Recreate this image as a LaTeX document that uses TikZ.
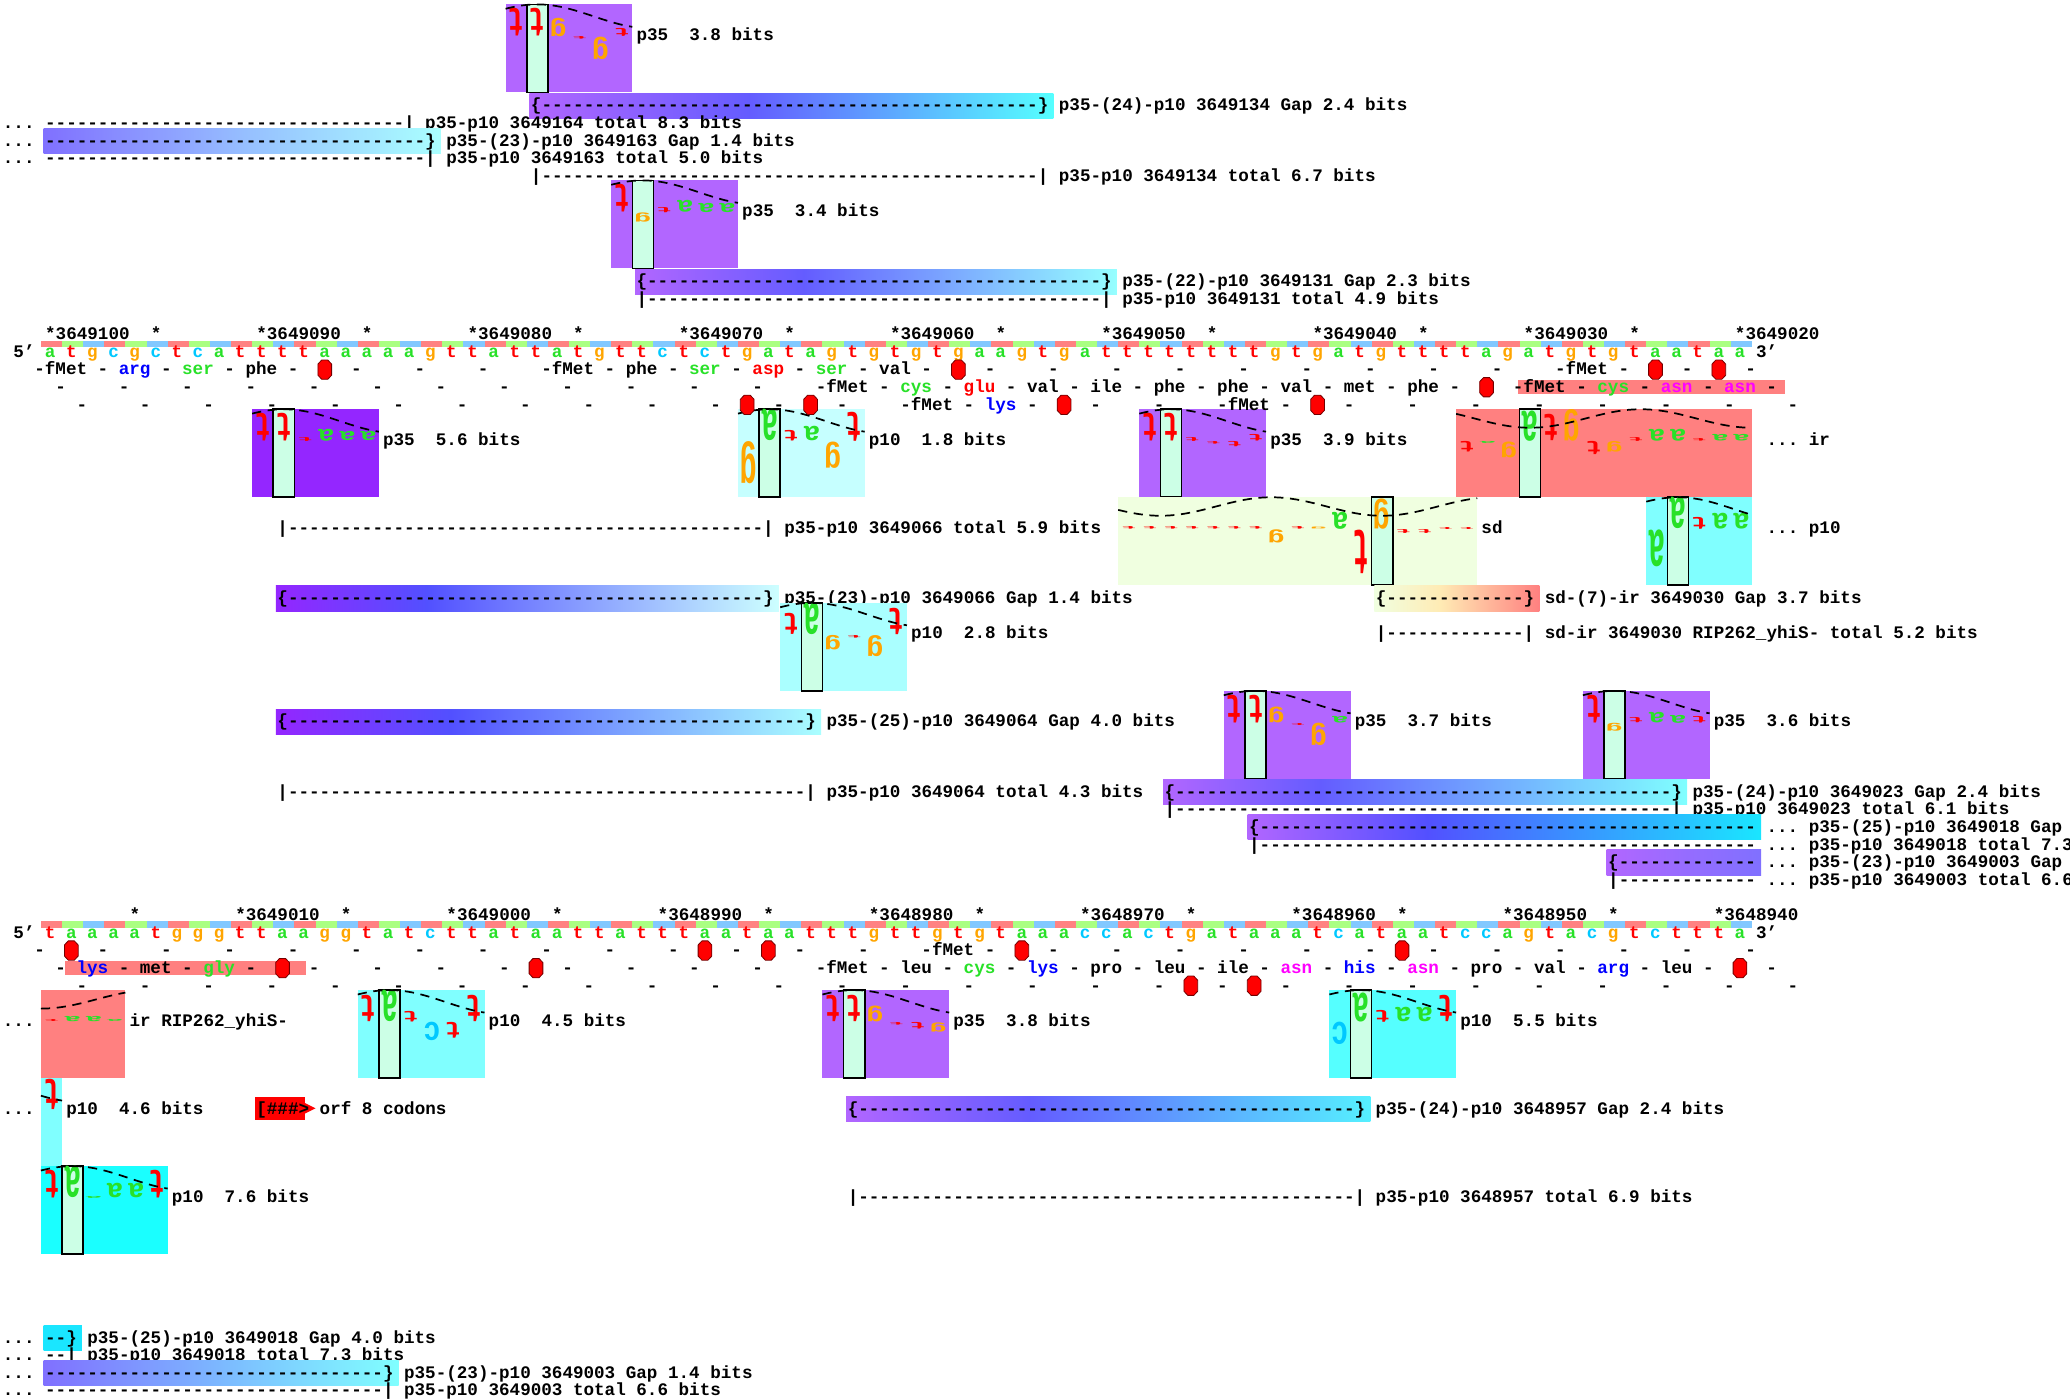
\documentclass[tikz,border=0pt]{standalone}
\usepackage{fontspec}
\usepackage{graphicx}
\newfontfamily\mf{Liberation Mono}
\definecolor{basea}{RGB}{40,225,40}
\definecolor{basec}{RGB}{0,200,255}
\definecolor{baseg}{RGB}{255,165,0}
\definecolor{baset}{RGB}{255,0,0}
\definecolor{fb0}{RGB}{255,130,130}
\definecolor{fb1}{RGB}{170,255,130}
\definecolor{fb2}{RGB}{130,200,255}
\definecolor{aab}{RGB}{0,0,255}
\definecolor{aag}{RGB}{40,225,40}
\definecolor{aar}{RGB}{255,0,0}
\definecolor{aam}{RGB}{255,0,255}
\definecolor{pur}{RGB}{178,102,255}
\definecolor{dpur}{RGB}{148,38,255}
\definecolor{cy1}{RGB}{198,255,255}
\definecolor{cy2}{RGB}{170,255,255}
\definecolor{cy3}{RGB}{128,255,255}
\definecolor{cy4}{RGB}{85,255,255}
\definecolor{cy5}{RGB}{26,255,255}
\definecolor{sal}{RGB}{255,128,128}
\definecolor{sdc}{RGB}{240,255,224}
\definecolor{selc}{RGB}{204,255,230}
\definecolor{gblue}{RGB}{100,92,255}
\definecolor{gblue2}{RGB}{82,80,255}
\definecolor{bl1}{RGB}{128,112,255}
\definecolor{bl1m}{RGB}{150,190,255}
\definecolor{cyb}{RGB}{150,255,255}
\definecolor{cyc}{RGB}{205,255,255}
\definecolor{cyh}{RGB}{26,230,255}
\definecolor{cyj}{RGB}{85,240,255}
\definecolor{sdm}{RGB}{255,235,180}
\definecolor{imid}{RGB}{150,108,255}
\definecolor{lmid}{RGB}{124,185,255}
\newcount\hyc
\newcount\nodec
\newcommand\hy[1]{\hyc=0 \loop-\kern0pt\advance\hyc by 1 \ifnum\hyc<#1 \repeat}
\tikzset{
  nm/.code={\global\advance\nodec by 1\relax\edef\tmpn{n\the\nodec}\pgfkeysalso{/tikz/name/.expand once=\tmpn}},
  txt/.style={nm, inner sep=0pt, font=\mf\bfseries\fontsize{13.33}{16}\selectfont\frenchspacing},
  crv/.style={black, line width=1.3pt, dash pattern=on 7pt off 5pt},
  selcol/.style={fill=selc, draw=black, line width=1.2pt},
  stopsty/.style={fill=red, draw=black!55!red, line width=0.6pt},
}
\newcommand\Ry[1]{(253.33+13.333*(#1))}
\newcommand\T[3]{\node[txt, anchor=base west] at ({2+8*(#1)},{#2+4}) {#3};}
\newcommand\Am[4]{\node[txt, anchor=base, text=#4] at ({38+16*(#1)},{#2+4}) {#3};}
\newcommand\Fm[2]{\node[txt, anchor=base] at ({34+16*(#1)},{#2+4}) {fMet};}
\newcommand\Dr[2]{\foreach\k in {0,...,27}{\node[txt, anchor=base] at ({30+16*(#2+3*\k)},{#1+4}) {-};}}
\newcommand\Stp[2]{\filldraw[stopsty] ({38+16*(#1)-2.3},{#2-7.3}) -- ++(4.6,0) -- ++(2.9,3.1) -- ++(0,8.4) -- ++(-2.9,3.1) -- ++(-4.6,0) -- ++(-2.9,-3.1) -- ++(0,-8.4) -- cycle;}
\newcommand\Sq[2]{\foreach \b [count=\i from 0] in {#2}{\node[txt, anchor=base] at ({38+16*\i},{#1+4}) {\textcolor{base\b}{\b}};}}
\newcommand\Cb[1]{\foreach \i in {0,...,80}{\pgfmathtruncatemacro\mm{mod(\i,3)}\fill[fb\mm] ({31+16*\i},#1) rectangle ++(16,5);}}
\newcommand\W[5]{\fill[#5] (#1,#2) rectangle ++({16*#3},66.67);
  \ifnum#4>-1 \filldraw[selcol] ({#1+16*#4},#2) rectangle ++(16,66.67);\fi}
\newcommand\Lt[4]{\ifdim #3pt>0pt \def\lanc{south}\else\def\lanc{north}\fi
  \pgfmathsetmacro\lh{max(abs(#3),1.3)}%
  \node[nm, inner sep=0pt, anchor=\lanc] at (#1,#2) {\resizebox*{13pt}{\lh pt}{\rotatebox{180}{\mf\bfseries\textcolor{base#4}{#4}}}};}
\newcommand\Cp[4]{\draw[crv] plot[domain=#1:#2, samples=60, variable=\x] (\x,{#3+9*(1-cos((\x-(#4))*2.11765))});}
\newcommand\Cs[4]{\draw[crv] plot[domain=#1:#2, samples=90, variable=\x] (\x,{#3+7*(1+cos((\x-(#4))*2.142857))});}
\newcommand\GB[7]{\pgfmathsetmacro\xm{#1+#7*(#2-#1)}%
  \shade[left color=#4,right color=#5] (#1,{#3-9.5}) rectangle ({\xm+0.6},{#3+9.5});
  \shade[left color=#5,right color=#6] (\xm,{#3-9.5}) rectangle (#2,{#3+9.5});}
\begin{document}
\begin{tikzpicture}[x=1pt,y=-1pt]
\useasboundingbox (0,0) rectangle (1568,1060);
\fill[white] (0,0) rectangle (1568,1060);
\clip (0,0) rectangle (1568,1060);
% ===== top section =====
\W{383}{3.33}{6}{1}{pur}
\def\zz{27.7}
\Lt{391}{\zz}{21}{t}\Lt{407}{\zz}{21}{t}\Lt{423}{\zz}{14}{g}\Lt{439}{\zz}{-2}{t}\Lt{455}{\zz}{-17}{g}\Lt{471}{\zz}{6}{t}
\Cp{383}{479}{3.33}{407}
\T{60}{\Ry{-17}}{p35~~3.8~bits}
\GB{401}{798}{\Ry{-13}}{pur}{gblue}{cy4}{0.42}
\T{50}{\Ry{-13}}{\{\hy{47}\}~p35-(24)-p10 3649134 Gap 2.4 bits}
\T{0}{\Ry{-12}}{...~\hy{34}|~p35-p10 3649164 total 8.3 bits}
\GB{33}{334}{\Ry{-11}}{bl1}{bl1m}{cy2}{0.5}
\T{0}{\Ry{-11}}{...~\hy{36}\}~p35-(23)-p10 3649163 Gap 1.4 bits}
\T{0}{\Ry{-10}}{...~\hy{36}|~p35-p10 3649163 total 5.0 bits}
\T{50}{\Ry{-9}}{|\hy{47}|~p35-p10 3649134 total 6.7 bits}
\W{463}{136.67}{6}{1}{pur}
\def\zz{161}
\Lt{471}{\zz}{21}{t}\Lt{487}{\zz}{-7}{g}\Lt{503}{\zz}{4}{t}\Lt{519}{\zz}{9}{a}\Lt{535}{\zz}{7}{a}\Lt{551}{\zz}{7}{a}
\Cp{463}{559}{136.67}{487}
\T{70}{\Ry{-7}}{p35~~3.4~bits}
\GB{481}{846}{\Ry{-3}}{pur}{gblue}{cyb}{0.35}
\T{60}{\Ry{-3}}{\{\hy{43}\}~p35-(22)-p10 3649131 Gap 2.3 bits}
\T{60}{\Ry{-2}}{|\hy{43}|~p35-p10 3649131 total 4.9 bits}
% ===== walkers below line 1 =====
\W{191}{310}{6}{1}{dpur}
\W{559}{310}{6}{1}{cy1}
\W{863}{310}{6}{1}{pur}
\W{1103}{310}{14}{3}{sal}
\def\zz{334.3}
\Lt{199}{\zz}{21}{t}\Lt{215}{\zz}{21}{t}\Lt{231}{\zz}{3}{t}\Lt{247}{\zz}{9}{a}\Lt{263}{\zz}{7}{a}\Lt{279}{\zz}{7}{a}
\Lt{567}{\zz}{-32}{g}\Lt{583}{\zz}{24}{a}\Lt{599}{\zz}{8}{t}\Lt{615}{\zz}{11}{a}\Lt{631}{\zz}{-20}{g}\Lt{647}{\zz}{22}{t}
\Lt{871}{\zz}{21}{t}\Lt{887}{\zz}{21}{t}\Lt{903}{\zz}{3}{t}\Lt{919}{\zz}{-2}{t}\Lt{935}{\zz}{-4}{t}\Lt{951}{\zz}{5}{t}
\Lt{1111}{\zz}{-8}{t}\Lt{1127}{\zz}{-1.5}{a}\Lt{1143}{\zz}{-12}{g}\Lt{1159}{\zz}{23}{a}\Lt{1175}{\zz}{20}{t}\Lt{1191}{\zz}{24}{g}\Lt{1207}{\zz}{-10}{t}
\Lt{1223}{\zz}{-8}{g}\Lt{1239}{\zz}{3}{t}\Lt{1255}{\zz}{9}{a}\Lt{1271}{\zz}{9}{a}\Lt{1287}{\zz}{2}{t}\Lt{1303}{\zz}{5}{a}\Lt{1319}{\zz}{5}{a}
\Cp{191}{287}{310}{215}
\Cp{559}{655}{310}{583}
\Cp{863}{959}{310}{887}
\Cs{1103}{1327}{310}{1159}
\T{36}{\Ry{6}}{p35~~5.6~bits}
\T{82}{\Ry{6}}{p10~~1.8~bits}
\T{120}{\Ry{6}}{p35~~3.9~bits}
\T{167}{\Ry{6}}{...~ir}
\W{847}{376.67}{17}{12}{sdc}
\W{1247}{376.67}{5}{1}{cy3}
\def\zz{401}
\Lt{855}{\zz}{2}{t}\Lt{871}{\zz}{2}{t}\Lt{887}{\zz}{2}{t}\Lt{903}{\zz}{2}{t}\Lt{919}{\zz}{2}{t}\Lt{935}{\zz}{2}{t}\Lt{951}{\zz}{2}{t}
\Lt{967}{\zz}{-10}{g}\Lt{983}{\zz}{2}{t}\Lt{999}{\zz}{1.5}{g}\Lt{1015}{\zz}{13}{a}\Lt{1031}{\zz}{-33}{t}\Lt{1047}{\zz}{23}{g}
\Lt{1063}{\zz}{-3}{t}\Lt{1079}{\zz}{-3}{t}\Lt{1095}{\zz}{1.5}{t}\Lt{1111}{\zz}{1.5}{t}
\Lt{1255}{\zz}{-28}{a}\Lt{1271}{\zz}{24}{a}\Lt{1287}{\zz}{9}{t}\Lt{1303}{\zz}{12}{a}\Lt{1319}{\zz}{12}{a}
\Cs{847}{1119}{376.67}{1047}
\Cp{1247}{1327}{376.67}{1271}
\T{26}{\Ry{11}}{|\hy{45}|~p35-p10 3649066 total 5.9 bits}
\T{140}{\Ry{11}}{sd}
\T{167}{\Ry{11}}{...~p10}
\GB{209}{590}{\Ry{15}}{dpur}{gblue2}{cyc}{0.3}
\T{26}{\Ry{15}}{\{\hy{45}\}~p35-(23)-p10 3649066 Gap 1.4 bits}
\GB{1041}{1166}{\Ry{15}}{sdc}{sdm}{sal}{0.4}
\T{130}{\Ry{15}}{\{\hy{13}\}~sd-(7)-ir 3649030 Gap 3.7 bits}
\W{591}{456.67}{6}{1}{cy2}
\def\zz{481}
\Lt{599}{\zz}{16}{t}\Lt{615}{\zz}{24}{a}\Lt{631}{\zz}{-11}{g}\Lt{647}{\zz}{-2}{t}\Lt{663}{\zz}{-16}{g}\Lt{679}{\zz}{20}{t}
\Cp{591}{687}{456.67}{615}
\T{86}{\Ry{17}}{p10~~2.8~bits}
\T{130}{\Ry{17}}{|\hy{13}|~sd-ir 3649030 RIP262\_yhiS- total 5.2 bits}
\GB{209}{622}{\Ry{22}}{dpur}{gblue2}{cy2}{0.32}
\T{26}{\Ry{22}}{\{\hy{49}\}~p35-(25)-p10 3649064 Gap 4.0 bits}
\W{927}{523.33}{6}{1}{pur}
\W{1199}{523.33}{6}{1}{pur}
\def\zz{547.7}
\Lt{935}{\zz}{21}{t}\Lt{951}{\zz}{21}{t}\Lt{967}{\zz}{12}{g}\Lt{983}{\zz}{-1.5}{t}\Lt{999}{\zz}{-17}{g}\Lt{1015}{\zz}{5}{a}
\Lt{1207}{\zz}{21}{t}\Lt{1223}{\zz}{-6}{g}\Lt{1239}{\zz}{4}{t}\Lt{1255}{\zz}{8}{a}\Lt{1271}{\zz}{6}{a}\Lt{1287}{\zz}{5}{t}
\Cp{927}{1023}{523.33}{951}
\Cp{1199}{1295}{523.33}{1223}
\T{128}{\Ry{22}}{p35~~3.7~bits}
\T{162}{\Ry{22}}{p35~~3.6~bits}
\T{26}{\Ry{26}}{|\hy{49}|~p35-p10 3649064 total 4.3 bits}
\GB{881}{1278}{\Ry{26}}{pur}{gblue}{cy3}{0.3}
\T{110}{\Ry{26}}{\{\hy{47}\}~p35-(24)-p10 3649023 Gap 2.4 bits}
\T{110}{\Ry{27}}{|\hy{47}|~p35-p10 3649023 total 6.1 bits}
\GB{945}{1334}{\Ry{28}}{pur}{gblue2}{cyh}{0.35}
\T{118}{\Ry{28}}{\{\hy{47}~...~p35-(25)-p10 3649018 Gap 4.0 bits}
\T{118}{\Ry{29}}{|\hy{47}~...~p35-p10 3649018 total 7.3 bits}
\GB{1217}{1334}{\Ry{30}}{pur}{imid}{bl1}{0.5}
\T{152}{\Ry{30}}{\{\hy{13}~...~p35-(23)-p10 3649003 Gap 1.4 bits}
\T{152}{\Ry{31}}{|\hy{13}~...~p35-p10 3649003 total 6.6 bits}
% ===== sequence line 1 =====
\foreach \i in {0,10,...,80}{\node[txt, anchor=base west] at ({34+16*\i},257.33) {*\the\numexpr3649100-\i\relax};}
\foreach \i in {5,15,...,75}{\node[txt, anchor=base west] at ({34+16*\i},257.33) {*};}
\Cb{258}
\T{1}{\Ry{1}}{5’}
\T{166}{\Ry{1}}{3’}
\Sq{266.67}{a,t,g,c,g,c,t,c,a,t,t,t,t,a,a,a,a,a,g,t,t,a,t,t,a,t,g,t,t,c,t,c,t,g,a,t,a,g,t,g,t,g,t,g,a,a,g,t,g,a,t,t,t,t,t,t,t,t,g,t,g,a,t,g,t,t,t,t,a,g,a,t,g,t,g,t,a,a,t,a,a}
\fill[sal] (1150,287.8) rectangle (1352,298.8);
\Dr{280}{0}\Dr{293.33}{1}\Dr{306.67}{2}
\Fm{1}{280}\Am{4}{280}{arg}{aab}\Am{7}{280}{ser}{aag}\Am{10}{280}{phe}{black}
\Fm{25}{280}\Am{28}{280}{phe}{black}\Am{31}{280}{ser}{aag}\Am{34}{280}{asp}{aar}\Am{37}{280}{ser}{aag}\Am{40}{280}{val}{black}\Fm{73}{280}
\Fm{38}{293.33}\Am{41}{293.33}{cys}{aag}\Am{44}{293.33}{glu}{aar}\Am{47}{293.33}{val}{black}\Am{50}{293.33}{ile}{black}
\Am{53}{293.33}{phe}{black}\Am{56}{293.33}{phe}{black}\Am{59}{293.33}{val}{black}\Am{62}{293.33}{met}{black}\Am{65}{293.33}{phe}{black}
\Fm{71}{293.33}\Am{74}{293.33}{cys}{aag}\Am{77}{293.33}{asn}{aam}\Am{80}{293.33}{asn}{aam}
\Fm{42}{306.67}\Am{45}{306.67}{lys}{aab}\Fm{57}{306.67}
\Stp{13}{280}\Stp{43}{280}\Stp{76}{280}\Stp{79}{280}\Stp{68}{293.33}
\Stp{33}{306.67}\Stp{36}{306.67}\Stp{48}{306.67}\Stp{60}{306.67}
% ===== walkers below line 2 =====
\W{31}{750}{4}{-1}{sal}
\W{271}{750}{6}{1}{cy3}
\W{623}{750}{6}{1}{pur}
\W{1007}{750}{6}{1}{cy4}
\def\zz{774.3}
\Lt{39}{\zz}{1.5}{t}\Lt{55}{\zz}{4}{a}\Lt{71}{\zz}{4}{a}\Lt{87}{\zz}{1.5}{a}
\Lt{279}{\zz}{20}{t}\Lt{295}{\zz}{24}{a}\Lt{311}{\zz}{8}{t}\Lt{327}{\zz}{-14}{c}\Lt{343}{\zz}{-12}{t}\Lt{359}{\zz}{20}{t}
\Lt{631}{\zz}{20}{t}\Lt{647}{\zz}{20}{t}\Lt{663}{\zz}{12}{g}\Lt{679}{\zz}{-2}{t}\Lt{695}{\zz}{-5}{t}\Lt{711}{\zz}{-7}{g}
\Lt{1015}{\zz}{-17}{c}\Lt{1031}{\zz}{22}{a}\Lt{1047}{\zz}{9}{t}\Lt{1063}{\zz}{11}{a}\Lt{1079}{\zz}{11}{a}\Lt{1095}{\zz}{20}{t}
\Cs{31}{95}{750}{-137}
\Cp{271}{367}{750}{295}
\Cp{623}{719}{750}{647}
\Cp{1007}{1103}{750}{1031}
\T{0}{\Ry{39}}{...}
\T{12}{\Ry{39}}{ir RIP262\_yhiS-}
\T{46}{\Ry{39}}{p10~~4.5~bits}
\T{90}{\Ry{39}}{p35~~3.8~bits}
\T{138}{\Ry{39}}{p10~~5.5~bits}
\W{31}{816.67}{1}{-1}{cy3}
\Lt{39}{841}{23}{t}
\Cp{31}{47}{816.67}{-25}
\T{0}{\Ry{44}}{...}
\T{6}{\Ry{44}}{p10~~4.6~bits}
\fill[red] (193,831) rectangle (231,848);
\fill[red] (230,835) -- (239,839.5) -- (230,844) -- cycle;
\T{24}{\Ry{44}}{[\#\#\#>}
\T{30}{\Ry{44}}{orf 8 codons}
\GB{641}{1038}{\Ry{44}}{pur}{gblue}{cyj}{0.35}
\T{80}{\Ry{44}}{\{\hy{47}\}~p35-(24)-p10 3648957 Gap 2.4 bits}
\W{31}{883.33}{6}{1}{cy5}
\def\zz{907.7}
\Lt{39}{\zz}{21}{t}\Lt{55}{\zz}{24}{a}\Lt{71}{\zz}{1.5}{a}\Lt{87}{\zz}{11}{a}\Lt{103}{\zz}{11}{a}\Lt{119}{\zz}{21}{t}
\Cp{31}{127}{883.33}{55}
\T{16}{\Ry{49}}{p10~~7.6~bits}
\T{80}{\Ry{49}}{|\hy{47}|~p35-p10 3648957 total 6.9 bits}
\GB{33}{62}{\Ry{57}}{cyh}{cyh}{cyh}{0.5}
\T{0}{\Ry{57}}{...~\hy{2}\}~p35-(25)-p10 3649018 Gap 4.0 bits}
\T{0}{\Ry{58}}{...~\hy{2}|~p35-p10 3649018 total 7.3 bits}
\GB{33}{302}{\Ry{59}}{bl1}{lmid}{cy3}{0.5}
\T{0}{\Ry{59}}{...~\hy{32}\}~p35-(23)-p10 3649003 Gap 1.4 bits}
\T{0}{\Ry{60}}{...~\hy{32}|~p35-p10 3649003 total 6.6 bits}
% ===== sequence line 2 =====
\foreach \i in {9,19,...,79}{\node[txt, anchor=base west] at ({34+16*\i},697.33) {*\the\numexpr3649019-\i\relax};}
\foreach \i in {4,14,...,74}{\node[txt, anchor=base west] at ({34+16*\i},697.33) {*};}
\Cb{698}
\T{1}{\Ry{34}}{5’}
\T{166}{\Ry{34}}{3’}
\Sq{706.67}{t,a,a,a,a,t,g,g,g,t,t,a,a,g,g,t,a,t,c,t,t,a,t,a,a,t,t,a,t,t,t,a,a,t,a,a,t,t,t,g,t,t,g,t,g,t,a,a,a,c,c,a,c,t,g,a,t,a,a,a,t,c,a,t,a,a,t,c,c,a,g,t,a,c,g,t,c,t,t,t,a}
\fill[sal] (49,727.8) rectangle (232,738.8);
\Dr{720}{0}\Dr{733.33}{1}\Dr{746.67}{2}
\Fm{43}{720}
\Am{2}{733.33}{lys}{aab}\Am{5}{733.33}{met}{black}\Am{8}{733.33}{gly}{aag}
\Fm{38}{733.33}\Am{41}{733.33}{leu}{black}\Am{44}{733.33}{cys}{aag}\Am{47}{733.33}{lys}{aab}\Am{50}{733.33}{pro}{black}
\Am{53}{733.33}{leu}{black}\Am{56}{733.33}{ile}{black}\Am{59}{733.33}{asn}{aam}\Am{62}{733.33}{his}{aab}\Am{65}{733.33}{asn}{aam}
\Am{68}{733.33}{pro}{black}\Am{71}{733.33}{val}{black}\Am{74}{733.33}{arg}{aab}\Am{77}{733.33}{leu}{black}
\Stp{1}{720}\Stp{31}{720}\Stp{34}{720}\Stp{46}{720}\Stp{64}{720}
\Stp{11}{733.33}\Stp{23}{733.33}\Stp{80}{733.33}
\Stp{54}{746.67}\Stp{57}{746.67}
\end{tikzpicture}
\end{document}
